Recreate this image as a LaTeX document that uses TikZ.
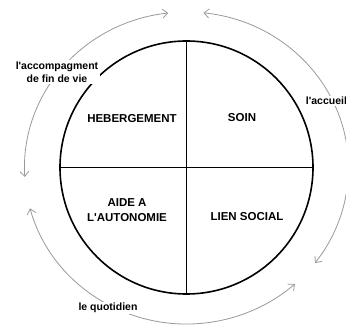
\documentclass[tikz,border=0pt]{standalone}
\usepackage{fontspec}
\setmainfont{Liberation Sans}
\usetikzlibrary{arrows.meta}

\tikzset{
  disc/.style={circle, draw=black, line width=1.6pt, minimum size=253pt, inner sep=0pt},
  divider/.style={draw=black, line width=1.3pt},
  cyclearc/.style={draw=gray!80, line width=0.8pt,
    {Straight Barb[length=5pt,width=9pt]}-{Straight Barb[length=5pt,width=9pt]}},
  sector/.style={font=\fontsize{11.5}{15}\selectfont\bfseries, align=center},
  phase/.style={font=\fontsize{10.5}{13}\selectfont\bfseries, align=center,
    fill=white, inner sep=1.5pt}
}
\newcommand{\apos}{\textquotesingle}

\begin{document}
\begin{tikzpicture}[x=1pt, y=1pt]
  \useasboundingbox (0,0) rectangle (346,329);

  % central wheel split into four quarters
  \node[disc] (wheel) at (186.5,161.5) {};
  \draw[divider] (wheel.north) -- (wheel.south);
  \draw[divider] (wheel.west) -- (wheel.east);

  % outer cycle arcs
  \coordinate (o) at (186.5,161);
  \draw[cyclearc] ([shift={(96.5:162pt and 156pt)}]o)
    arc[start angle=96.5, end angle=183.3, x radius=162pt, y radius=156pt];
  \draw[cyclearc] ([shift={(84:162pt and 156pt)}]o)
    arc[start angle=84, end angle=-37.5, x radius=162pt, y radius=156pt];
  \draw[cyclearc] ([shift={(195:162pt and 156pt)}]o)
    arc[start angle=195, end angle=312, x radius=162pt, y radius=156pt];

  % quarter labels
  \node[sector] (heb) at (132,210) {HEBERGEMENT};
  \node[sector] (soin) at (242,211) {SOIN};
  \node[sector] (aide) at (127,119) {AIDE A\\L\apos AUTONOMIE};
  \node[sector] (lien) at (247,112) {LIEN SOCIAL};

  % cycle labels
  \node[phase] (accueil) at (326.5,228) {l\apos accueil};
  \node[phase] (quotidien) at (108,21) {le quotidien};
  \node[phase] (fin) at (57,257) {l\apos accompagment\\de fin de vie};
\end{tikzpicture}
\end{document}
